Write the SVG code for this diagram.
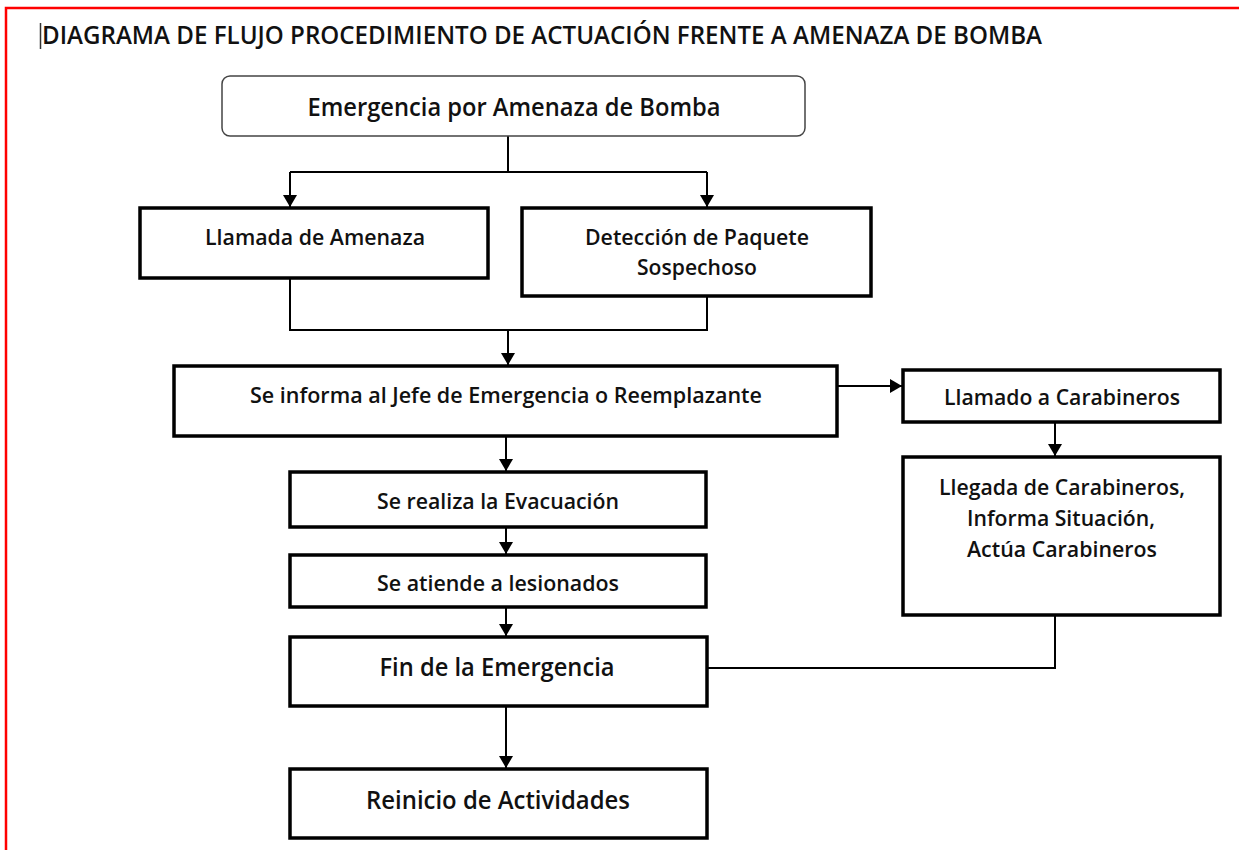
<svg xmlns="http://www.w3.org/2000/svg" width="1239" height="850" viewBox="0 0 1239 850">
<style>
.t{font-family:"Open Sans","Liberation Sans",sans-serif;font-weight:600;fill:#111;text-anchor:middle}
.s{font-size:21px}
.b{font-size:25px}
.box{fill:#fff;stroke:#000;stroke-width:3.5}
.ln{fill:none;stroke:#000;stroke-width:2}
</style>
<defs>
<marker id="ah" viewBox="0 0 12 14" refX="12" refY="7" markerWidth="15" markerHeight="14" markerUnits="userSpaceOnUse" orient="auto">
<path d="M0,0 L12,7 L0,14 z" fill="#000"/>
</marker>
</defs>
<rect width="1239" height="850" fill="#fff"/>
<path d="M6,850 V8 H1239" fill="none" stroke="#f00" stroke-width="2.5"/>
<line x1="40.5" y1="23" x2="40.5" y2="49" stroke="#333" stroke-width="1.5"/>
<text x="42" y="44" class="t" style="text-anchor:start;font-size:26px" textLength="1000" lengthAdjust="spacingAndGlyphs">DIAGRAMA DE FLUJO PROCEDIMIENTO DE ACTUACIÓN FRENTE A AMENAZA DE BOMBA</text>
<g id="connectors">
<path class="ln" d="M508,136 V172"/>
<path class="ln" d="M290,172 H707"/>
<path class="ln" d="M290,172 V207" marker-end="url(#ah)"/>
<path class="ln" d="M707,172 V207" marker-end="url(#ah)"/>
<path class="ln" d="M290,278 V330 H707 V296"/>
<path class="ln" d="M508,330 V365" marker-end="url(#ah)"/>
<path class="ln" d="M837,386 H902" marker-end="url(#ah)"/>
<path class="ln" d="M1055,422 V456" marker-end="url(#ah)"/>
<path class="ln" d="M1055,615 V668 H707"/>
<path class="ln" d="M506,436 V471" marker-end="url(#ah)"/>
<path class="ln" d="M506,527 V554" marker-end="url(#ah)"/>
<path class="ln" d="M506,607 V636" marker-end="url(#ah)"/>
<path class="ln" d="M506,702 V768" marker-end="url(#ah)"/>
</g>
<g id="n-emergencia">
<rect x="222" y="76" width="583" height="60" rx="8" fill="#fff" stroke="#444" stroke-width="1.5"/>
<text x="514" y="116" class="t b" textLength="413" lengthAdjust="spacingAndGlyphs">Emergencia por Amenaza de Bomba</text>
</g>
<g id="n-llamada">
<rect x="140" y="208" width="348" height="70" class="box"/>
<text x="315" y="245" class="t s" textLength="220" lengthAdjust="spacingAndGlyphs">Llamada de Amenaza</text>
</g>
<g id="n-deteccion">
<rect x="522" y="208" width="349" height="88" class="box"/>
<text x="697" y="245" class="t s" textLength="224" lengthAdjust="spacingAndGlyphs">Detección de Paquete</text>
<text x="697" y="275" class="t s" textLength="120" lengthAdjust="spacingAndGlyphs">Sospechoso</text>
</g>
<g id="n-informa">
<rect x="174" y="366" width="663" height="70" class="box"/>
<text x="506" y="403" class="t s" textLength="512" lengthAdjust="spacingAndGlyphs">Se informa al Jefe de Emergencia o Reemplazante</text>
</g>
<g id="n-llamado-carabineros">
<rect x="903" y="370" width="317" height="52" class="box"/>
<text x="1062" y="405" class="t s" textLength="236" lengthAdjust="spacingAndGlyphs">Llamado a Carabineros</text>
</g>
<g id="n-llegada">
<rect x="903" y="457" width="317" height="158" class="box"/>
<text x="1062" y="495" class="t s" textLength="246" lengthAdjust="spacingAndGlyphs">Llegada de Carabineros,</text>
<text x="1061" y="526" class="t s" textLength="188" lengthAdjust="spacingAndGlyphs">Informa Situación,</text>
<text x="1062" y="557" class="t s" textLength="190" lengthAdjust="spacingAndGlyphs">Actúa Carabineros</text>
</g>
<g id="n-evacuacion">
<rect x="290" y="472" width="416" height="55" class="box"/>
<text x="498" y="509" class="t s" textLength="242" lengthAdjust="spacingAndGlyphs">Se realiza la Evacuación</text>
</g>
<g id="n-lesionados">
<rect x="290" y="555" width="416" height="52" class="box"/>
<text x="498" y="591" class="t s" textLength="242" lengthAdjust="spacingAndGlyphs">Se atiende a lesionados</text>
</g>
<g id="n-fin">
<rect x="290" y="637" width="417" height="69" class="box"/>
<text x="497" y="676" class="t b" textLength="235" lengthAdjust="spacingAndGlyphs">Fin de la Emergencia</text>
</g>
<g id="n-reinicio">
<rect x="290" y="769" width="417" height="69" class="box"/>
<text x="498" y="809" class="t b" textLength="264" lengthAdjust="spacingAndGlyphs">Reinicio de Actividades</text>
</g>
</svg>
